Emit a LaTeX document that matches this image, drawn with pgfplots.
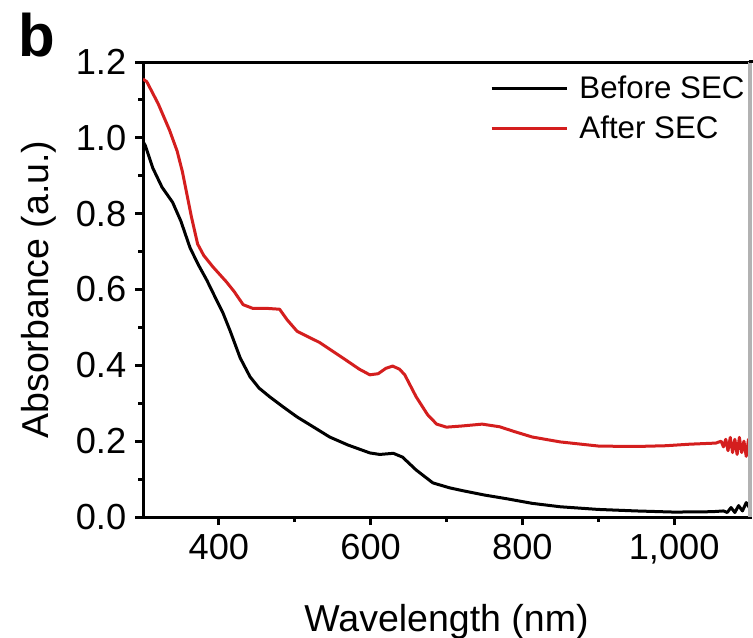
\documentclass[border=0pt]{standalone}
\usepackage{fontspec}
\setmainfont{Liberation Sans}
\usepackage{pgfplots}
\pgfplotsset{compat=1.18}
\definecolor{myred}{RGB}{212,30,30}
\begin{document}
\begin{tikzpicture}
\begin{axis}[
  name=ax,
  scale only axis,
  width=242.8pt, height=182pt,
  xmin=300, xmax=1100, ymin=0, ymax=1.2,
  xtick={400,600,800,1000},
  xticklabels={400,600,800,{1,000}},
  minor xtick={500,700,900},
  ytick={0,0.2,0.4,0.6,0.8,1.0,1.2},
  yticklabels={0.0,0.2,0.4,0.6,0.8,1.0,1.2},
  minor ytick={0.1,0.3,0.5,0.7,0.9,1.1},
  /pgf/number format/assume math mode=true,
  tick pos=left,
  tick align=outside,
  major tick length=3.2pt,
  minor tick length=2pt,
  every tick/.style={line width=1.2pt, black},
  axis line style={line width=1.2pt},
  tick label style={font=\fontsize{14.5}{17}\selectfont},
  xlabel={Wavelength (nm)},
  ylabel={Absorbance (a.u.)},
  label style={font=\fontsize{15}{18}\selectfont},
  xlabel style={at={(axis description cs:0.5,-0.252)}, anchor=base},
  ylabel style={at={(axis description cs:-0.1565,0.5)}, anchor=base},
  legend style={at={(axis description cs:1.0,0.988)}, anchor=north east,
    draw=none, fill=none, font=\fontsize{12.5}{15}\selectfont,
    inner xsep=0pt, inner ysep=1pt, row sep=1.5pt},
  legend cell align=left,
  legend image code/.code={\draw[#1, line width=1.2pt] (0pt,0pt) -- (30pt,0pt); \path (32.5pt,0pt);},
  clip=true,
]
\addplot[black, line width=1.2pt, line join=round] coordinates {
(300,0.99) (303,0.98) (313,0.92) (325,0.87) (339,0.83) (350,0.78) (362,0.71)
(373,0.665) (384,0.625) (395,0.58) (405,0.54) (415,0.49) (428,0.42) (441,0.37)
(453,0.34) (467,0.317) (485,0.29) (503,0.264) (525,0.237) (546,0.211) (570,0.19)
(599,0.169) (612,0.165) (630,0.168) (642,0.158) (660,0.124) (682,0.09) (704,0.077)
(720,0.07) (750,0.058) (780,0.048) (813,0.036) (850,0.027) (900,0.02) (950,0.016)
(1000,0.013) (1050,0.014) (1065,0.016) (1070,0.012) (1075,0.025) (1080,0.012)
(1085,0.03) (1090,0.016) (1095,0.038) (1100,0.022)
};
\addlegendentry{Before SEC}
\addplot[myred, line width=1.2pt, line join=round] coordinates {
(300,1.155) (305,1.148) (320,1.09) (335,1.02) (345,0.965) (352,0.91) (358,0.85)
(364,0.79) (372,0.72) (380,0.69) (392,0.66) (410,0.62) (420,0.595) (432,0.56)
(445,0.55) (465,0.55) (480,0.548) (490,0.52) (503,0.49) (533,0.46) (563,0.42)
(585,0.39) (599,0.375) (610,0.378) (620,0.392) (629,0.398) (638,0.39) (645,0.375)
(660,0.317) (675,0.27) (687,0.245) (700,0.237) (720,0.24) (747,0.245) (770,0.238)
(790,0.225) (813,0.211) (850,0.198) (901,0.187) (950,0.186) (989,0.188) (1020,0.192)
(1055,0.195) (1062,0.2) (1065,0.185) (1068,0.205) (1071,0.175) (1074,0.21)
(1077,0.17) (1080,0.205) (1083,0.165) (1086,0.21) (1089,0.17) (1092,0.2)
(1095,0.16) (1098,0.205) (1100,0.18)
};
\addlegendentry{After SEC}
\end{axis}
\draw[gray!60, line width=1.4pt] (242.8pt,0pt) -- (242.8pt,182pt);
\draw[black, line width=1.2pt] (242.2pt,182pt) -- (244pt,182pt);
\node[anchor=base west, inner sep=0pt, font=\fontsize{24}{28}\selectfont\bfseries]
  at (-50pt,184pt) {b};
\pgfresetboundingbox
\path (-57.2pt,-48pt) rectangle (244pt,206.8pt);
\end{tikzpicture}
\end{document}
